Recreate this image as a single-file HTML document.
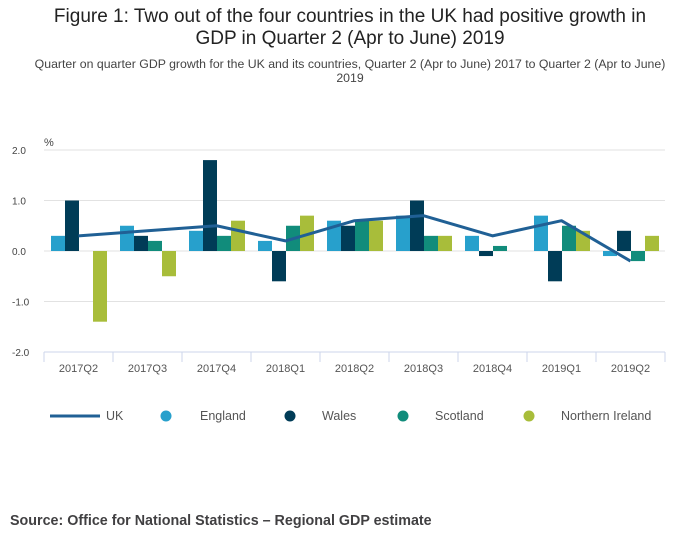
<!DOCTYPE html>
<html><head><meta charset="utf-8"><style>
body{margin:0;background:#fff;font-family:"Liberation Sans",sans-serif;}
#w{position:relative;width:700px;height:549px;overflow:hidden;}
.t{position:absolute;left:0;width:700px;text-align:center;color:#222;}
</style></head><body><div id="w">
<div class="t" style="top:6px;font-size:19px;line-height:22px;">Figure 1: Two out of the four countries in the UK had positive growth in<br>GDP in Quarter 2 (Apr to June) 2019</div>
<div class="t" style="top:57px;font-size:12.3px;line-height:14px;color:#444;left:0;width:700px;">Quarter on quarter GDP growth for the UK and its countries, Quarter 2 (Apr to June) 2017 to Quarter 2 (Apr to June)<br>2019</div>
<svg id="c" width="700" height="549" style="position:absolute;left:0;top:0"></svg>
<div style="position:absolute;left:10px;top:513px;font-size:14.3px;font-weight:bold;color:#414042;">Source: Office for National Statistics – Regional GDP estimate</div>
</div>
<script>
const categories=["2017Q2","2017Q3","2017Q4","2018Q1","2018Q2","2018Q3","2018Q4","2019Q1","2019Q2"];
const england=[0.3,0.5,0.4,0.2,0.6,0.7,0.3,0.7,-0.1];
const wales=[1.0,0.3,1.8,-0.6,0.5,1.0,-0.1,-0.6,0.4];
const scotland=[0,0.2,0.3,0.5,0.6,0.3,0.1,0.5,-0.2];
const nireland=[-1.4,-0.5,0.6,0.7,0.6,0.3,0,0.4,0.3];
const uk=[0.3,0.4,0.5,0.2,0.6,0.7,0.3,0.6,-0.2];
const yTicks=[2,1,0,-1,-2];
const yTickLabels=["2.0","1.0","0.0","-1.0","-2.0"];
const NS="http://www.w3.org/2000/svg",svg=document.getElementById('c');
const X0=44,X1=665,cw=(X1-X0)/categories.length;
const y=v=>251-v*50.5;
function mk(t,a,p){const e=document.createElementNS(NS,t);for(const k in a)e.setAttribute(k,a[k]);(p||svg).appendChild(e);return e;}
yTicks.forEach((v,i)=>{
 const g=mk('line',{x1:X0,x2:X1,y1:y(v),y2:y(v),stroke:'#e2e2e2'});
 
 
 const t=mk('text',{x:12,y:y(v)+4,'font-size':10,fill:'#444'});t.textContent=yTickLabels[i];
 
 
});
const pc=mk('text',{x:44,y:146,'font-size':11,fill:'#444'});pc.textContent='%';


mk('line',{x1:X0,x2:X1,y1:352,y2:352,stroke:'#ccd6eb'});
categories.forEach((c,i)=>{
 const tk=mk('line',{x1:X0+i*cw,x2:X0+i*cw,y1:352,y2:362,stroke:'#ccd6eb'});
 
 
 const t=mk('text',{x:X0+(i+.5)*cw,y:372,'font-size':11,fill:'#555','text-anchor':'middle'});t.textContent=c;
 
 
});
mk('line',{x1:X1,x2:X1,y1:352,y2:362,stroke:'#ccd6eb'});
const series=[[england,'#27a0cc','england'],[wales,'#003c57','wales'],[scotland,'#118c7b','scotland'],[nireland,'#a8bd3a','northern-ireland']];
const bw=14;
series.forEach(([d,col,nm],s)=>{d.forEach((v,i)=>{
 if(v===0)return;
 const x=X0+i*cw+7+s*bw;
 const r=mk('rect',{x:x,y:Math.min(y(v),y(0)),width:bw,height:Math.abs(y(v)-y(0)),fill:col});
 
 
});});
const pts=uk.map((v,i)=>(X0+(i+.5)*cw)+','+y(v)).join(' ');
const pl=mk('polyline',{points:pts,fill:'none',stroke:'#206095',"stroke-width":3,"stroke-linejoin":'round'});


const leg=[['UK',null,50,106],['England','#27a0cc',166,200],['Wales','#003c57',290,322],['Scotland','#118c7b',403,435],['Northern Ireland','#a8bd3a',529,561]];
leg.forEach(([n,col,mx,tx])=>{
 const g=mk('g',{});
 
 
 if(col)mk('circle',{cx:mx,cy:416,r:5.5,fill:col},g);
 else mk('line',{x1:mx,x2:mx+50,y1:416,y2:416,stroke:'#206095','stroke-width':3},g);
 const t=mk('text',{x:tx,y:420,'font-size':12.5,fill:'#555'},g);t.textContent=n;
});
</script></body></html>
